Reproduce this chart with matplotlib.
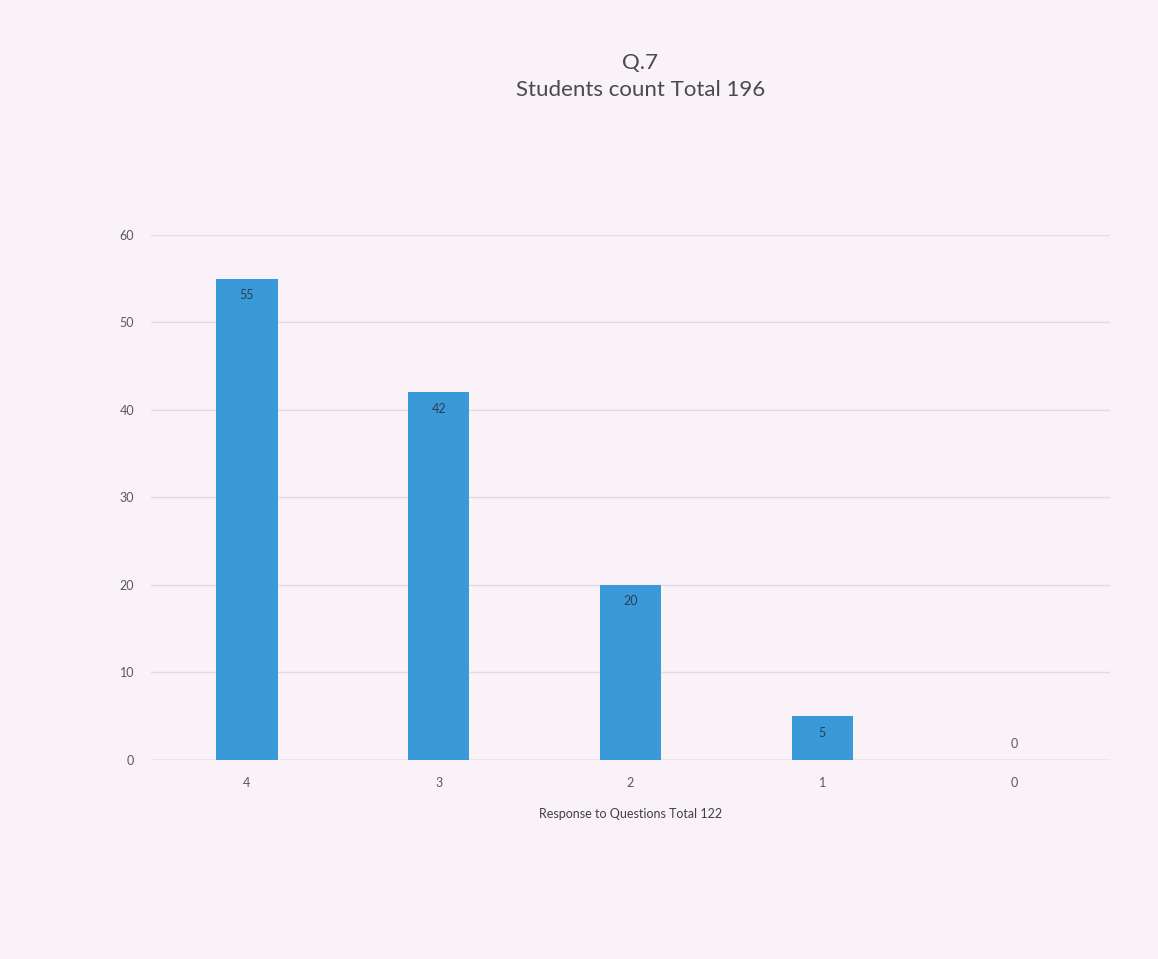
import matplotlib.pyplot as plt

# Q.7 survey responses
responses = ["4", "3", "2", "1", "0"]
counts = [55, 42, 20, 5, 0]

title = "Q.7\nStudents count Total 196"
xlabel = "Response to Questions Total 122"

plt.rcParams["font.family"] = ["Lato", "DejaVu Sans"]

fig = plt.figure(figsize=(11.58, 9.59), dpi=100)
fig.patch.set_facecolor("#f9f3f9")
ax = fig.add_axes([0.1304, 0.2075, 0.8281, 0.5475])
ax.set_facecolor("#f9f3f9")

x = range(len(responses))
bars = ax.bar(x, counts, width=0.32, color="#3a9ad9", zorder=3)

for b, v in zip(bars, counts):
    if v > 3:
        ax.text(b.get_x() + b.get_width() / 2, v - 1.2, str(v),
                ha="center", va="top", fontsize=9, color="#2b3e50", zorder=4)
    else:
        ax.text(b.get_x() + b.get_width() / 2, v + 1.2, str(v),
                ha="center", va="bottom", fontsize=9, color="#595959", zorder=4)

ax.set_xlim(-0.5, 4.5)
ax.set_ylim(0, 60)
ax.set_yticks(range(0, 61, 10))
ax.set_xticks(list(x))
ax.set_xticklabels(responses)
ax.grid(axis="y", color="#e2dce2", linewidth=1, zorder=0)
ax.axhline(0, color="#d0cad0", linewidth=1, zorder=2)
for s in ax.spines.values():
    s.set_visible(False)
ax.tick_params(length=0, labelsize=9, colors="#595959")
ax.tick_params(axis="y", pad=12)
ax.tick_params(axis="x", pad=12)

ax.set_xlabel(xlabel, fontsize=9, color="#404040", labelpad=14)
fig.text(0.553, 0.945, title, ha="center", va="top", fontsize=16,
         color="#4a4a4a", linespacing=1.45)

plt.savefig("out.png", dpi=100, facecolor=fig.get_facecolor())
